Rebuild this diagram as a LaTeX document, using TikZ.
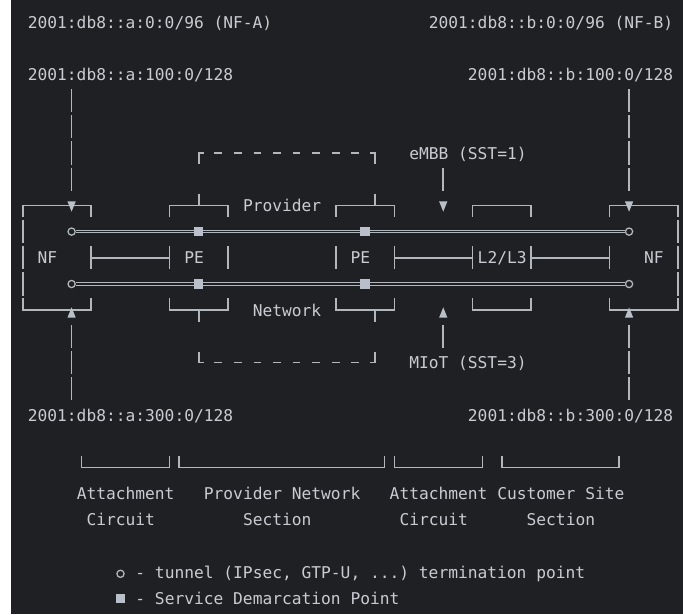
\documentclass[tikz,border=0pt]{standalone}
\usepackage{fontspec}
\setmonofont{DejaVu Sans Mono}
\usepackage{tikz}
\definecolor{bg}{RGB}{31,32,35}
\definecolor{fg}{RGB}{200,204,210}
\definecolor{ln}{RGB}{178,183,190}
\definecolor{mk}{RGB}{186,192,202}
\newcommand{\termfont}{\ttfamily\fontsize{12.18}{14}\selectfont}

\begin{document}
\begin{tikzpicture}[x=7.335pt, y=-19.65pt,
    term/.style={font=\termfont, text=fg, inner sep=0pt, anchor=base west},
    glyph/.style={draw=ln, line width=1.25pt},
    tube/.style={draw=ln, double=bg, line width=0.75pt, double distance=1.3pt},
    tend/.style={circle, draw=ln, fill=bg, line width=0.95pt, minimum size=5.4pt, inner sep=0pt},
    sdp/.style={rectangle, fill=mk, minimum width=6.8pt, minimum height=6.8pt, inner sep=0pt},
    dntri/.pic={\fill[mk] (-0.42,-0.15) -- (0.42,-0.15) -- (0,0.24) -- cycle;},
    uptri/.pic={\fill[mk] (-0.42,0.28) -- (0.42,0.28) -- (0,-0.11) -- cycle;}]

    %% Background
    \fill[bg] (-2.321,-0.840) rectangle (67.515,22.595);
    \fill[white] (-2.321,-0.840) rectangle (-1.196,22.595);

    %% Addresses
    \node[term] (pfxA) at (0.5,0.23) {2001:db8::a:0:0/96 (NF-A)};
    \node[term] (pfxB) at (41.5,0.23) {2001:db8::b:0:0/96 (NF-B)};
    \node[term] (loA1) at (0.5,2.23) {2001:db8::a:100:0/128};
    \node[term] (loB1) at (45.5,2.23) {2001:db8::b:100:0/128};
    \node[term] (loA3) at (0.5,15.23) {2001:db8::a:300:0/128};
    \node[term] (loB3) at (45.5,15.23) {2001:db8::b:300:0/128};

    %% Drops down to the NFs
    \foreach \r in {3,4,5,6,12,13,14}
        \draw[glyph] (5,\r-0.44) -- (5,\r+0.44) (62,\r-0.44) -- (62,\r+0.44);

    %% NF boxes
    \draw[glyph] (0,7.45) -- (0,7) -- (7,7) -- (7,7.45);
    \draw[glyph] (0,10.55) -- (0,11) -- (7,11) -- (7,10.55);
    \draw[glyph] (60,7.45) -- (60,7) -- (67,7) -- (67,7.45);
    \draw[glyph] (60,10.55) -- (60,11) -- (67,11) -- (67,10.55);
    \foreach \r in {8,9,10}
        \draw[glyph] (0,\r-0.44) -- (0,\r+0.44) (67,\r-0.44) -- (67,\r+0.44);

    %% PE and L2/L3 boxes
    \foreach \l/\rr in {15/21,32/38,46/52} {
        \draw[glyph] (\l,7.45) -- (\l,7) -- (\rr,7) -- (\rr,7.45);
        \draw[glyph] (\l,10.55) -- (\l,11) -- (\rr,11) -- (\rr,10.55);
        \draw[glyph] (\l,8.56) -- (\l,9.44) (\rr,8.56) -- (\rr,9.44);
    }
    \foreach \c in {18,36}
        \draw[glyph] (\c,6.55) -- (\c,7) (\c,11) -- (\c,11.45);

    %% Links on the middle row
    \draw[glyph] (7,8.56) -- (7,9.44) (60,8.56) -- (60,9.44);
    \draw[glyph] (7,9) -- (15,9) (38,9) -- (46,9) (52,9) -- (60,9);

    \node[term] (nfA) at (1.5,9.23) {NF};
    \node[term] (peA) at (16.5,9.23) {PE};
    \node[term] (peB) at (33.5,9.23) {PE};
    \node[term] (cpe) at (46.5,9.23) {L2/L3};
    \node[term] (nfB) at (63.5,9.23) {NF};
    \node[term] (pnTop) at (22.5,7.23) {Provider};
    \node[term] (pnBot) at (23.5,11.23) {Network};

    %% Provider network brackets (dashed)
    \draw[glyph] (18,5.42) -- (18,5) -- (18.5,5);
    \draw[glyph] (35.5,5) -- (36,5) -- (36,5.42);
    \draw[glyph] (18,12.58) -- (18,13) -- (18.5,13);
    \draw[glyph] (35.5,13) -- (36,13) -- (36,12.58);
    \foreach \c in {20,22,...,34}
        \draw[glyph] (\c-0.4,5) -- (\c+0.4,5) (\c-0.4,13) -- (\c+0.4,13);

    %% Slices
    \node[term] (embb) at (39.5,5.23) {eMBB (SST=1)};
    \node[term] (miot) at (39.5,13.23) {MIoT (SST=3)};
    \draw[glyph] (43,5.56) -- (43,6.44) (43,11.56) -- (43,12.44);

    %% Arrow heads
    \foreach \c in {5,43,62} {
        \pic at (\c,7) {dntri};
        \pic at (\c,11) {uptri};
    }

    %% Tunnels
    \node[tend] (tA1) at (5,8) {};
    \node[tend] (tB1) at (62,8) {};
    \node[tend] (tA2) at (5,10) {};
    \node[tend] (tB2) at (62,10) {};
    \draw[tube] (tA1) -- (tB1);
    \draw[tube] (tA2) -- (tB2);
    \foreach \c/\n in {18/a,35/b} {
        \node[sdp] (sdp\n1) at (\c,8) {};
        \node[sdp] (sdp\n2) at (\c,10) {};
    }

    %% Sections
    \foreach \l/\rr in {6/15,16/37,38/47,49/61}
        \draw[glyph] (\l,16.58) -- (\l,17) -- (\rr,17) -- (\rr,16.58);
    \node[term] (acA) at (5.5,18.23) {Attachment};
    \node[term] (acAb) at (6.5,19.23) {Circuit};
    \node[term] (pns) at (18.5,18.23) {Provider Network};
    \node[term] (pnsb) at (22.5,19.23) {Section};
    \node[term] (acB) at (37.5,18.23) {Attachment};
    \node[term] (acBb) at (38.5,19.23) {Circuit};
    \node[term] (css) at (48.5,18.23) {Customer Site};
    \node[term] (cssb) at (51.5,19.23) {Section};

    %% Legend
    \node[tend] (keyT) at (10,21.06) {};
    \node[term] (keyTtxt) at (11.5,21.23) {- tunnel (IPsec, GTP-U, ...) termination point};
    \node[sdp] (keyS) at (10,22.02) {};
    \node[term] (keyStxt) at (11.5,22.23) {- Service Demarcation Point};

\end{tikzpicture}
\end{document}
